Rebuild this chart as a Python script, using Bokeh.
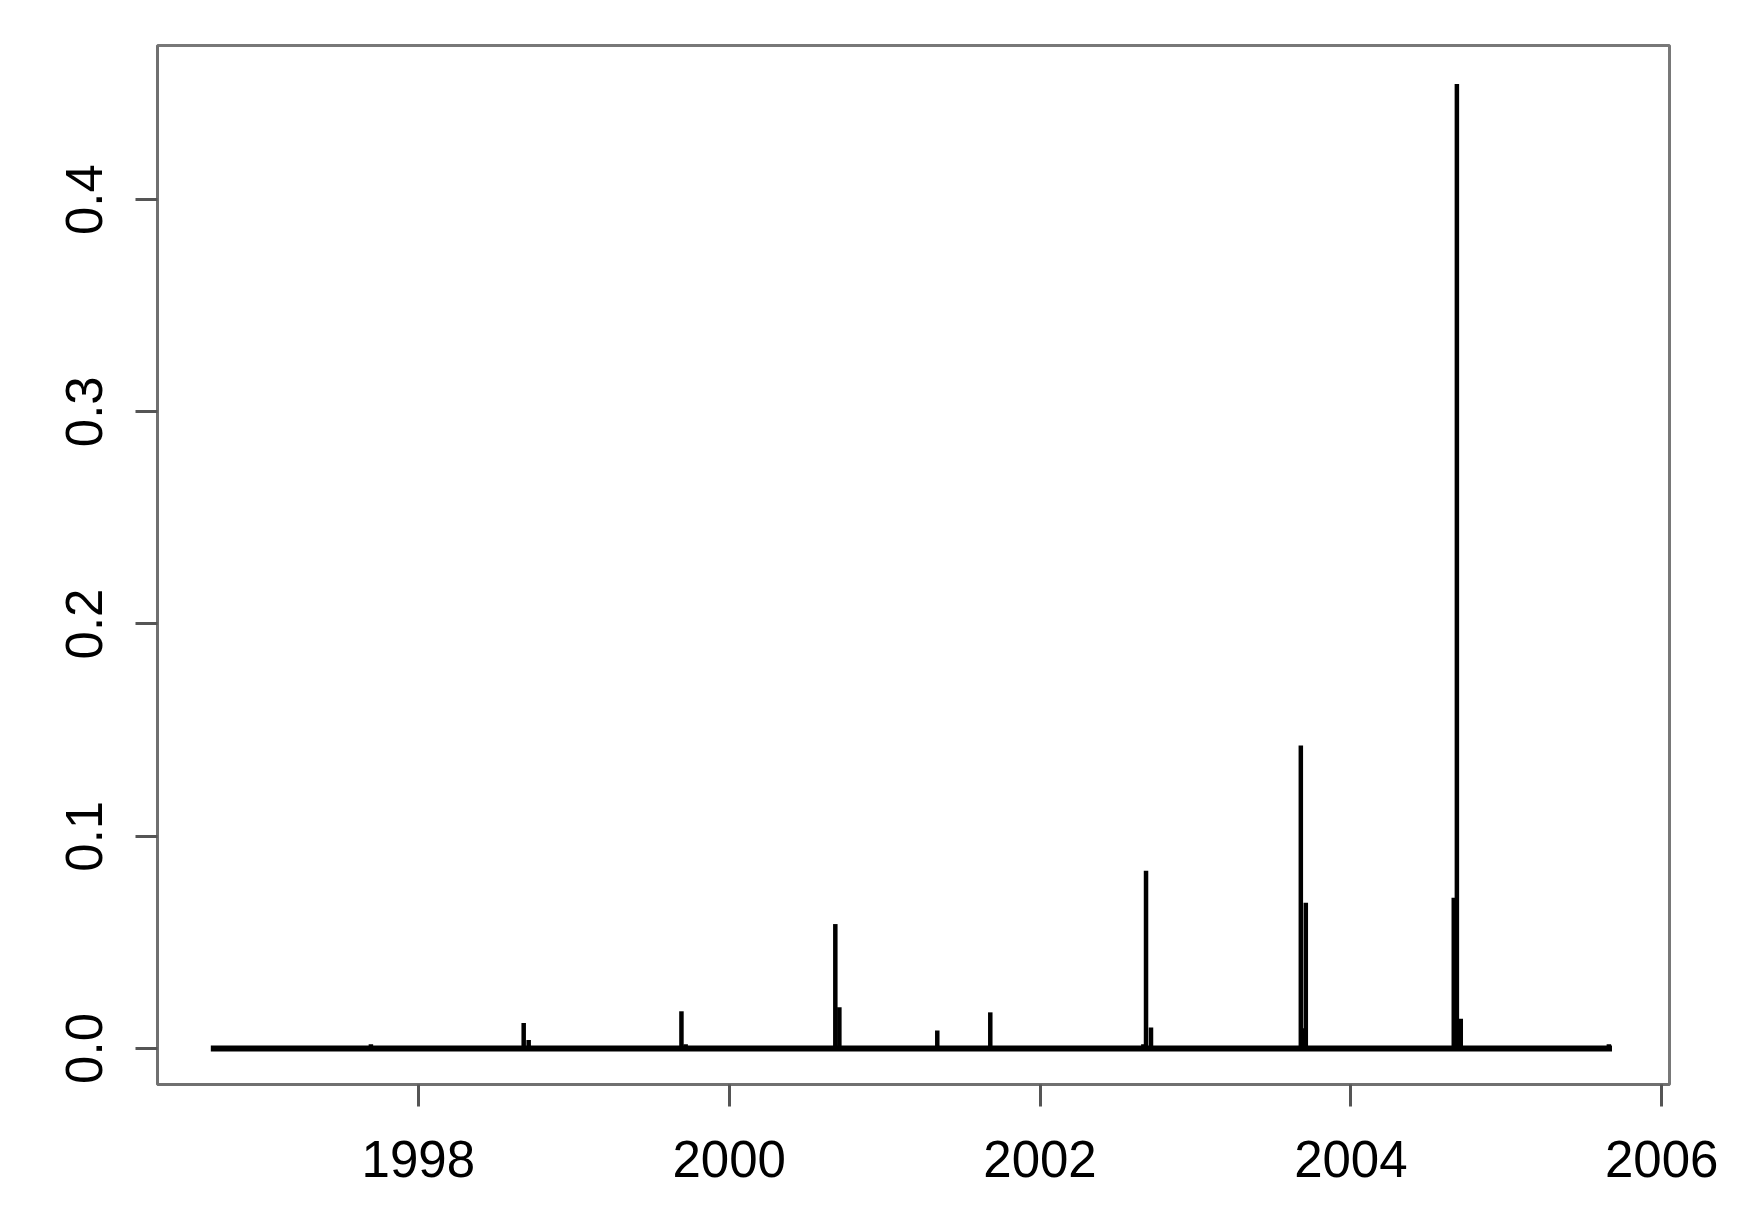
from bokeh.plotting import figure
from bokeh.models import Range1d, FixedTicker
from bokeh.embed import file_html
from bokeh.resources import INLINE

# ---- data ----
series_start = 1996.665
series_end = 2005.68
baseline_value = 0.0

spike_years = [1997.695, 1998.678, 1998.71, 1999.693, 1999.72,
               2000.683, 2000.709, 2001.339, 2001.680,
               2002.665, 2002.682, 2002.714,
               2003.678, 2003.695, 2003.710,
               2004.662, 2004.682, 2004.707, 2005.66]
spike_values = [0.002, 0.012, 0.004, 0.0175, 0.002,
                0.0586, 0.0194, 0.0085, 0.017,
                0.002, 0.0837, 0.0099,
                0.1428, 0.0095, 0.0686,
                0.071, 0.4545, 0.014, 0.002]

x_ticks = [1998, 2000, 2002, 2004, 2006]
y_ticks = [0.0, 0.1, 0.2, 0.3, 0.4]
y_tick_labels = ["0.0", "0.1", "0.2", "0.3", "0.4"]

p = figure(width=1740, height=1204, output_backend="svg", toolbar_location=None,
           x_range=Range1d(1996.322, 2006.05), y_range=Range1d(-0.017, 0.4726),
           min_border_left=157, min_border_right=71, min_border_top=45, min_border_bottom=120)

p.xgrid.visible = False
p.ygrid.visible = False
p.background_fill_color = "white"
p.border_fill_color = "white"
p.outline_line_color = "#787878"
p.outline_line_width = 3

# baseline of the series
p.line(x=[series_start, series_end], y=[baseline_value, baseline_value],
       line_color="black", line_width=6)
# spikes
p.segment(x0=spike_years, y0=[baseline_value] * len(spike_years),
          x1=spike_years, y1=spike_values, line_color="black", line_width=4.5)

font = "Liberation Sans"
for ax in (p.xaxis[0], p.yaxis[0]):
    ax.axis_line_color = "#707070"
    ax.axis_line_width = 3
    ax.major_tick_line_color = "#555555"
    ax.major_tick_line_width = 3
    ax.major_tick_out = 22
    ax.major_tick_in = 0
    ax.minor_tick_line_color = None
    ax.major_label_text_font = font
    ax.major_label_text_font_size = "51px"
    ax.major_label_text_color = "black"
    ax.major_label_standoff = 33

p.xaxis[0].major_label_standoff = 34
p.xaxis[0].ticker = FixedTicker(ticks=x_ticks)
p.yaxis[0].ticker = FixedTicker(ticks=y_ticks)
p.yaxis[0].major_label_overrides = {t: l for t, l in zip(y_ticks, y_tick_labels)}
p.yaxis[0].major_label_orientation = "vertical"

open("out.html", "w").write(file_html(p, INLINE))
